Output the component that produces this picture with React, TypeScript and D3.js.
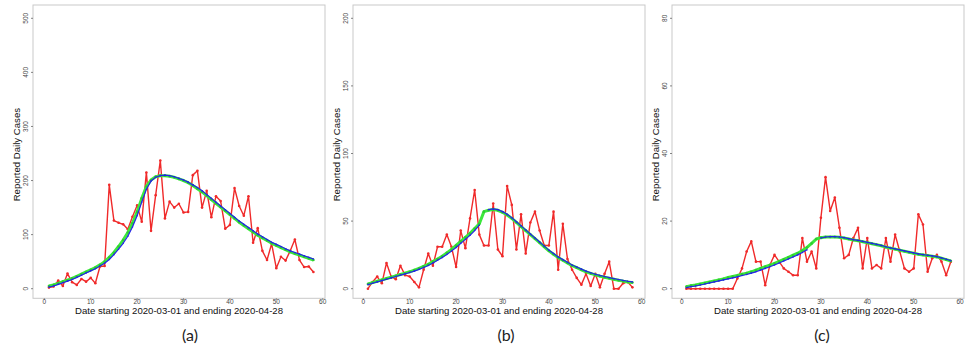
import React from "react";
import * as d3 from "d3";

// ---------- data ----------
const days: number[] = Array.from({ length: 58 }, (_, i) => i + 1);
const xTicks: number[] = [0, 10, 20, 30, 40, 50, 60];

const yTicksA: number[] = [0, 100, 200, 300, 400, 500];
const yTicksB: number[] = [0, 50, 100, 150, 200];
const yTicksC: number[] = [0, 20, 40, 60, 80];

const reportedA: number[] = [2, 4, 15, 5, 28, 12, 7, 18, 13, 20, 10, 41, 42, 192, 126, 122, 119, 110, 133, 154, 124, 215, 107, 173, 237, 130, 161, 150, 157, 141, 142, 210, 218, 150, 181, 132, 171, 162, 111, 118, 186, 153, 135, 171, 85, 112, 70, 53, 83, 38, 59, 52, 70, 91, 53, 40, 41, 31];
const greenA: number[] = [5, 7, 10, 13, 16, 19, 23, 27, 31, 35, 39, 44, 50, 58, 67, 78, 90, 104, 121, 142, 167, 189, 201, 207, 209, 209, 208, 206, 203, 200, 196, 191, 185, 179, 172, 165, 158, 151, 144, 137, 130, 123, 117, 111, 105, 99, 94, 89, 84, 80, 76, 72, 68, 65, 62, 59, 56, 53];
const blueA: (number | null)[] = [3, 5, 8, 11, 14, 17, 21, 25, 29, 33, 37, 42, 47, 54, 63, 73, 84, 97, 114, 135, 160, 184, 199, 206, 209, 210, 209, 207, 204, 201, 197, 192, 187, 181, 174, 167, 160, 153, 146, 139, 132, 125, 119, 113, 107, 101, 96, 91, 86, 82, 78, 74, 70, 67, 64, 61, 58, 55];

const reportedB: number[] = [0, 5, 9, 4, 19, 9, 7, 17, 10, 9, 5, 1, 14, 26, 17, 31, 31, 40, 31, 16, 43, 30, 52, 73, 40, 32, 32, 63, 29, 24, 76, 62, 29, 55, 26, 49, 57, 43, 32, 32, 57, 14, 48, 22, 14, 8, 3, 11, 2, 11, 1, 11, 20, 0, 0, 4, 5, 1];
const greenB: number[] = [3.5, 4.5, 5.5, 6.5, 7.5, 8.5, 9.5, 10.5, 11.5, 12.5, 13.8, 15, 16.5, 18, 20, 22, 24, 26.5, 29, 32, 35, 38, 41, 44.5, 48, 57, 58, 58.5, 58, 56.5, 54.5, 52, 49, 46, 43, 40, 37, 34, 31, 28, 25.5, 23, 21, 19, 17, 15.5, 14, 12.5, 11.3, 10.2, 9.3, 8.5, 7.7, 7, 6.3, 5.6, 5, 4.5];
const blueB: (number | null)[] = [3, 4, 5, 6, 7, 8, 9, 10, 11, 12, 13, 14.3, 15.7, 17.2, 19, 21, 23, 25.3, 27.8, 30.5, 33.5, 36.5, 39.5, 43, 47, null, 58.5, 59, 58.5, 57, 55, 52.5, 49.5, 46.5, 43.5, 40.5, 37.5, 34.5, 31.5, 28.5, 26, 23.5, 21.5, 19.5, 17.5, 16, 14.5, 13, 11.8, 10.7, 9.8, 9, 8.2, 7.5, 6.8, 6.1, 5.5, 5];

const reportedC: number[] = [0, 0, 0, 0, 0, 0, 0, 0, 0, 0, 0, 3, 6, 11, 14, 8, 8, 1, 7, 10, 8, 6, 5, 4, 4, 15, 8, 11, 6, 21, 33, 23, 27, 18, 9, 10, 15, 18, 6, 15, 6, 7, 6, 15, 8, 16, 11, 6, 5, 6, 22, 19, 5, 9, 10, 8, 4, 8];
const greenC: number[] = [0.6, 0.9, 1.1, 1.4, 1.7, 2.0, 2.3, 2.6, 2.9, 3.3, 3.6, 3.9, 4.3, 4.6, 5.0, 5.5, 6.0, 6.5, 7.0, 7.5, 8.1, 8.7, 9.3, 9.9, 10.5, 11.3, 12.2, 13.4, 14.7, 15.1, 15.3, 15.3, 15.3, 15.2, 15.0, 14.7, 14.4, 14.2, 13.9, 13.6, 13.3, 13.0, 12.7, 12.3, 12.0, 11.7, 11.4, 11.1, 10.8, 10.5, 10.2, 10.0, 9.8, 9.6, 9.4, 9.0, 8.6, 8.2];
const blueC: (number | null)[] = [0.3, 0.6, 0.8, 1.1, 1.4, 1.7, 2.0, 2.3, 2.6, 2.9, 3.2, 3.5, 3.9, 4.2, 4.6, 5.0, 5.5, 6.0, 6.5, 7.0, 7.6, 8.2, 8.8, 9.4, 10.0, 10.7, 11.5, null, null, 15.0, 15.3, 15.4, 15.4, 15.3, 15.1, 14.8, 14.5, 14.3, 14.0, 13.7, 13.4, 13.1, 12.8, 12.4, 12.1, 11.8, 11.5, 11.2, 10.9, 10.6, 10.3, 10.1, 9.9, 9.7, 9.5, 9.1, 8.7, 8.3];

const xTitle = "Date starting 2020-03-01 and ending 2020-04-28";
const yTitle = "Reported Daily Cases";
const panelLabels: string[] = ["(a)", "(b)", "(c)"];

// ---------- layout ----------
const W = 966;
const H = 352;
const RED = "#f02a2a";
const GREEN = "#3ce83c";
const BLUE = "#2424e8";

type PanelProps = {
  x0: number;
  boxL: number;
  boxR: number;
  yMax: number;
  yTicks: number[];
  reported: number[];
  green: number[];
  blue: (number | null)[];
  label: string;
  labelX: number;
};

function Panel(p: PanelProps) {
  const x = d3.scaleLinear().domain([0, 60]).range([p.x0, p.x0 + 278.4]);
  const y = d3.scaleLinear().domain([0, p.yMax]).range([288.7, 18.3]);
  const boxTop = 5;
  const boxBot = 298.3;

  const line = d3
    .line<number>()
    .x((_, i) => x(days[i]))
    .y((v) => y(v));
  const lineN = d3
    .line<number | null>()
    .defined((v) => v !== null)
    .x((_, i) => x(days[i]))
    .y((v) => y(v as number));

  const cx = (p.boxL + p.boxR) / 2;
  const yMid = (boxTop + boxBot) / 2;
  const font = "'Liberation Sans', Arial, sans-serif";

  return (
    <g>
      <rect x={p.boxL} y={boxTop} width={p.boxR - p.boxL} height={boxBot - boxTop} fill="none" stroke="#c9c9c9" strokeWidth={1} />
      {p.yTicks.map((t) => (
        <g key={"y" + t}>
          <line x1={p.boxL - 2} x2={p.boxL} y1={y(t)} y2={y(t)} stroke="#666" strokeWidth={0.8} />
          <text
            transform={`translate(${p.boxL - 5},${y(t)}) rotate(-90)`}
            textAnchor="middle"
            fontSize={6.5}
            fill="#444"
            fontFamily={font}
          >
            {t}
          </text>
        </g>
      ))}
      {xTicks.map((t) => (
        <g key={"x" + t}>
          <line x1={x(t)} x2={x(t)} y1={boxBot} y2={boxBot + 1.5} stroke="#666" strokeWidth={0.8} />
          <text x={x(t)} y={boxBot + 6} textAnchor="middle" fontSize={6.5} fill="#444" fontFamily={font}>
            {t}
          </text>
        </g>
      ))}
      <text x={cx} y={314} textAnchor="middle" fontSize={9.6} fill="#111" fontFamily={font}>
        {xTitle}
      </text>
      <text
        transform={`translate(${p.boxL - 13},${yMid + 3}) rotate(-90)`}
        textAnchor="middle"
        fontSize={9.6}
        fill="#111"
        fontFamily={font}
      >
        {yTitle}
      </text>
      <text x={p.labelX} y={341} textAnchor="middle" fontSize={16} fill="#222" fontFamily="Lato, 'Open Sans', sans-serif">
        {p.label}
      </text>

      <path d={line(p.reported) || ""} fill="none" stroke={RED} strokeWidth={1.4} strokeLinejoin="round" />
      {p.reported.map((v, i) => (
        <circle key={"r" + i} cx={x(days[i])} cy={y(v)} r={1.3} fill={RED} />
      ))}
      <path d={line(p.green) || ""} fill="none" stroke={GREEN} strokeWidth={3} strokeLinejoin="round" />
      {p.green.map((v, i) => (
        <circle key={"g" + i} cx={x(days[i])} cy={y(v)} r={1.3} fill="#30cc30" />
      ))}
      <path d={lineN(p.blue) || ""} fill="none" stroke={BLUE} strokeWidth={1.2} strokeLinejoin="round" />
      {p.blue.map((v, i) =>
        v === null ? null : <circle key={"b" + i} cx={x(days[i])} cy={y(v)} r={0.8} fill={BLUE} />
      )}
    </g>
  );
}

export default function App() {
  return (
    <svg width={W} height={H} style={{ position: "absolute", left: 0, top: 0, background: "#fff" }}>
      <rect x={0} y={0} width={W} height={H} fill="#fff" />
      <Panel x0={44.3} boxL={33} boxR={325} yMax={500} yTicks={yTicksA} reported={reportedA} green={greenA} blue={blueA} label={panelLabels[0]} labelX={190} />
      <Panel x0={363.3} boxL={353} boxR={645} yMax={200} yTicks={yTicksB} reported={reportedB} green={greenB} blue={blueB} label={panelLabels[1]} labelX={506} />
      <Panel x0={681.7} boxL={672} boxR={964} yMax={80} yTicks={yTicksC} reported={reportedC} green={greenC} blue={blueC} label={panelLabels[2]} labelX={822} />
    </svg>
  );
}
